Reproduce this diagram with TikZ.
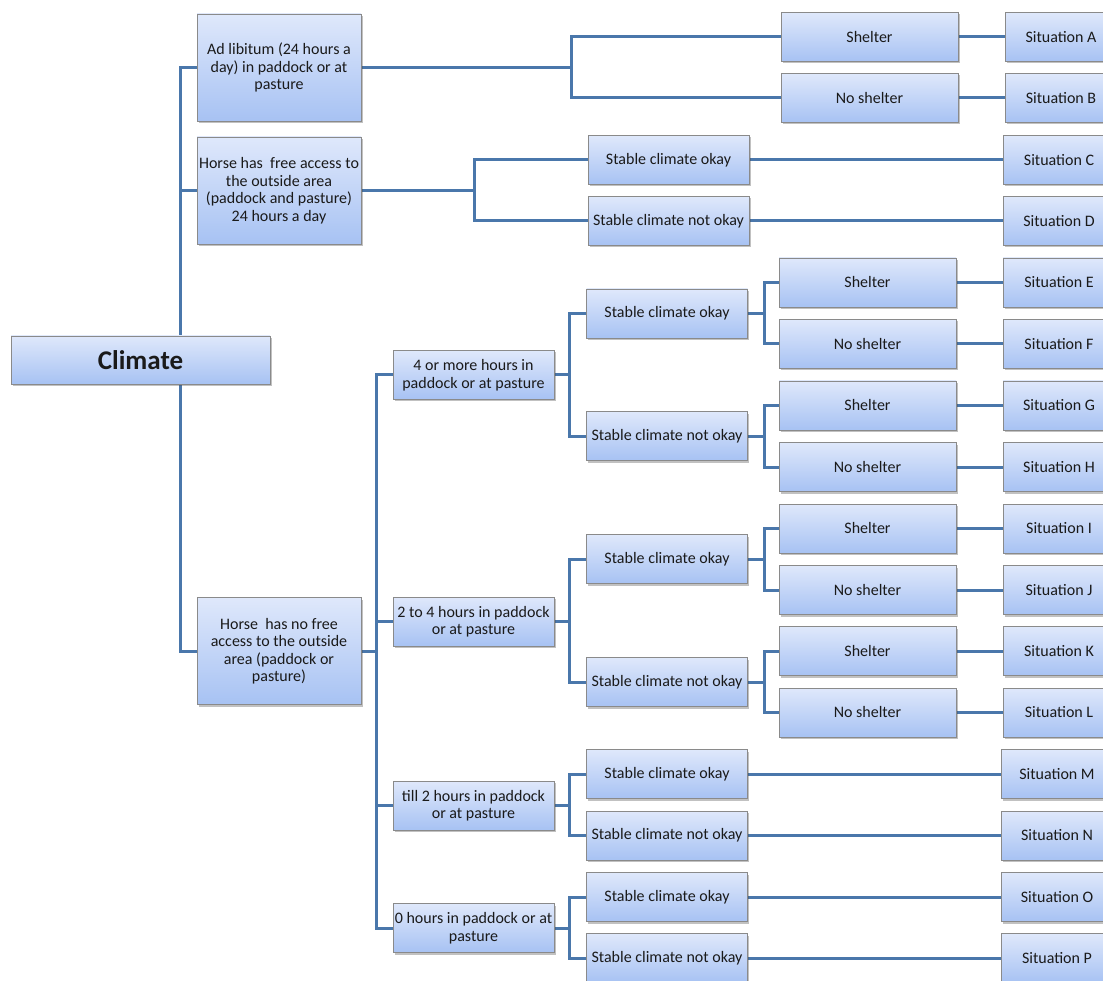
\documentclass[tikz,border=0pt]{standalone}
\usepackage{fontspec}
\setmainfont{Carlito}
\usetikzlibrary{shadows}
\pgfdeclarelayer{bg}
\pgfsetlayers{bg,main}
\definecolor{linkblue}{HTML}{4A77AB}
\definecolor{boxtop}{HTML}{DFE8FB}
\definecolor{boxbot}{HTML}{A7C2F3}
\definecolor{boxedge}{HTML}{8A8A8A}
\definecolor{inktext}{HTML}{1A1A1A}
\tikzset{
  box/.style={draw=boxedge, line width=0.8pt, top color=boxtop, bottom color=boxbot,
    align=center, inner sep=1pt, text=inktext, font=\fontsize{16}{17.5}\selectfont,
    drop shadow={shadow xshift=1.5pt, shadow yshift=-2pt, opacity=0.35, fill=black!70}},
  wide/.style={box, minimum width=164pt, minimum height=107pt},
  mid/.style={box, minimum width=161pt, minimum height=49pt},
  shel/.style={box, minimum width=177pt, minimum height=49pt},
  sit/.style={box, minimum width=112pt, minimum height=49pt},
  conn/.style={draw=linkblue, line width=3pt}
}
\begin{document}
\begin{tikzpicture}[x=1pt,y=-1pt]
\path[use as bounding box, clip] (0,0) rectangle (1103,981);

% root
\node[box, minimum width=259pt, minimum height=48pt, font=\fontsize{27}{30}\selectfont\bfseries] (clim) at (140.5,360) {Climate};

% first level
\node[wide] (adlib) at (279,67.5) {Ad libitum (24 hours a\\day) in paddock or at\\pasture};
\node[wide] (free) at (279,190.5) {Horse has~ free access to\\the outside area\\(paddock and pasture)\\24 hours a day};
\node[wide] (nofree) at (279,651) {Horse~ has no free\\access to the outside\\area (paddock or\\pasture)};

% ad libitum branch
\node[shel] (sA) at (869.5,37) {Shelter};
\node[shel] (sB) at (869.5,98) {No shelter};
\node[sit] (A) at (1061,37) {Situation A};
\node[sit] (B) at (1061,98) {Situation B};

% free access branch
\node[mid] (cC) at (668.5,160) {Stable climate okay};
\node[mid] (cD) at (668.5,221) {Stable climate not okay};
\node[sit] (C) at (1059,160) {Situation C};
\node[sit] (D) at (1059,221) {Situation D};

% time outside
\node[mid] (h1) at (473.5,375) {4 or more hours in\\paddock or at pasture};
\node[mid] (h2) at (473.5,621.5) {2 to 4 hours in paddock\\or at pasture};
\node[mid] (h3) at (473.5,805.5) {till 2 hours in paddock\\or at pasture};
\node[mid] (h4) at (473.5,928) {0 hours in paddock or at\\pasture};

% stable climate
\node[mid] (k1) at (667,313.5) {Stable climate okay};
\node[mid] (k2) at (667,436) {Stable climate not okay};
\node[mid] (k3) at (667,559) {Stable climate okay};
\node[mid] (k4) at (667,682) {Stable climate not okay};
\node[mid] (k5) at (667,774) {Stable climate okay};
\node[mid] (k6) at (667,835.5) {Stable climate not okay};
\node[mid] (k7) at (667,897) {Stable climate okay};
\node[mid] (k8) at (667,958) {Stable climate not okay};

% shelter
\node[shel] (sE) at (867.5,282.5) {Shelter};
\node[shel] (sF) at (867.5,344) {No shelter};
\node[shel] (sG) at (867.5,405.5) {Shelter};
\node[shel] (sH) at (867.5,467) {No shelter};
\node[shel] (sI) at (867.5,528.5) {Shelter};
\node[shel] (sJ) at (867.5,590) {No shelter};
\node[shel] (sK) at (867.5,651) {Shelter};
\node[shel] (sL) at (867.5,712.5) {No shelter};

% situations
\node[sit] (E) at (1059,282.5) {Situation E};
\node[sit] (F) at (1059,344) {Situation F};
\node[sit] (G) at (1059,405.5) {Situation G};
\node[sit] (H) at (1059,467) {Situation H};
\node[sit] (I) at (1059,528.5) {Situation I};
\node[sit] (J) at (1059,590) {Situation J};
\node[sit] (K) at (1059,651) {Situation K};
\node[sit] (L) at (1059,712.5) {Situation L};
\node[sit] (M) at (1057,774) {Situation M};
\node[sit] (N) at (1057,835.5) {Situation N};
\node[sit] (O) at (1057,897) {Situation O};
\node[sit] (P) at (1057,958) {Situation P};

% junction columns
\coordinate (j0) at (180,0);
\coordinate (j1) at (571,0);
\coordinate (j2) at (474,0);
\coordinate (j3) at (376,0);
\coordinate (j4) at (569,0);
\coordinate (j5) at (764,0);

\begin{pgfonlayer}{bg}
% root fork
\draw[conn] (adlib.west) -- (adlib.west -| j0) -- (nofree.west -| j0) -- (nofree.west);
\draw[conn] (free.west) -- (free.west -| j0);
% ad libitum fork
\draw[conn] (adlib.east) -- (adlib.east -| j1);
\draw[conn] (sA.west) -- (sA.west -| j1) -- (sB.west -| j1) -- (sB.west);
\draw[conn] (sA) -- (A); \draw[conn] (sB) -- (B);
% free access fork
\draw[conn] (free.east) -- (free.east -| j2);
\draw[conn] (cC.west) -- (cC.west -| j2) -- (cD.west -| j2) -- (cD.west);
\draw[conn] (cC) -- (C); \draw[conn] (cD) -- (D);
% no free access fork
\draw[conn] (nofree.east) -- (nofree.east -| j3);
\draw[conn] (h1.west) -- (h1.west -| j3) -- (h4.west -| j3) -- (h4.west);
\draw[conn] (h2.west) -- (h2.west -| j3);
\draw[conn] (h3.west) -- (h3.west -| j3);
% hours forks
\foreach \h/\a/\b in {h1/k1/k2, h2/k3/k4, h3/k5/k6, h4/k7/k8}{
  \draw[conn] (\h.east) -- (\h.east -| j4);
  \draw[conn] (\a.west) -- (\a.west -| j4) -- (\b.west -| j4) -- (\b.west);
}
% shelter forks
\foreach \k/\a/\b in {k1/sE/sF, k2/sG/sH, k3/sI/sJ, k4/sK/sL}{
  \draw[conn] (\k.east) -- (\k.east -| j5);
  \draw[conn] (\a.west) -- (\a.west -| j5) -- (\b.west -| j5) -- (\b.west);
}
\foreach \s/\t in {sE/E, sF/F, sG/G, sH/H, sI/I, sJ/J, sK/K, sL/L, k5/M, k6/N, k7/O, k8/P}{
  \draw[conn] (\s) -- (\t);
}
\end{pgfonlayer}
\end{tikzpicture}
\end{document}
